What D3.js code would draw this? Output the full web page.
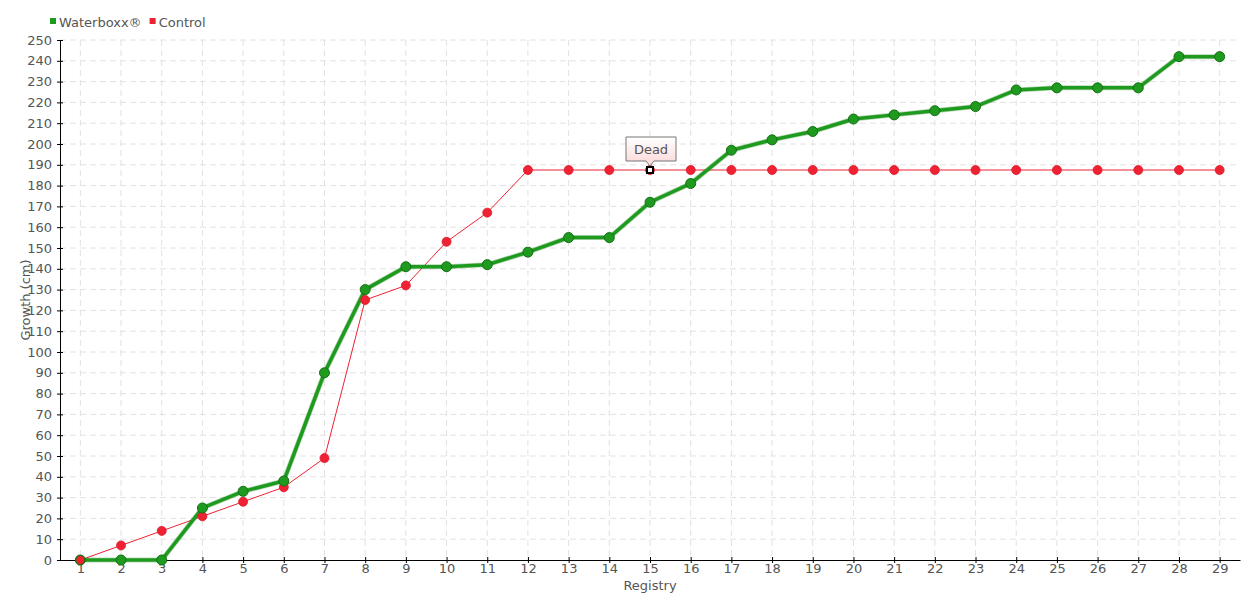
<!DOCTYPE html>
<html><head><meta charset="utf-8">
<script src="https://cdn.jsdelivr.net/npm/d3@7"></script>
<style>
body{margin:0;background:#fff;}
text{font-family:"DejaVu Sans",sans-serif;}
</style></head>
<body><svg id="c" width="1260" height="600"></svg>
<script>
const registry = d3.range(1, 30);
const waterboxx = [0,0,0,25,33,38,90,130,141,141,142,148,155,155,172,181,197,202,206,212,214,216,218,226,227,227,227,242,242];
const control = [0,7,14,21,28,35,49,125,132,153,167,187.5,187.5,187.5,187.5,187.5,187.5,187.5,187.5,187.5,187.5,187.5,187.5,187.5,187.5,187.5,187.5,187.5,187.5];
const yTicks = d3.range(0, 251, 10);
const seriesNames = ["Waterboxx®", "Control"];
const deadIndex = 14;

const svg = d3.select("#c");
const L = 60, R = 1240, T = 40, B = 560;
const x = d3.scaleLinear().domain([0.5, 29.5]).range([L, R]);
const y = d3.scaleLinear().domain([0, 250]).range([B, T]);

const green = "#1e9a1e", red = "#ee2233";
const fs = "13px";

// grid
const g = svg.append("g");
g.selectAll(".hg").data(yTicks.slice(1)).enter().append("line")
  .attr("x1", L).attr("x2", R).attr("y1", d => y(d)).attr("y2", d => y(d))
  .attr("stroke", "#e2e2e2").attr("stroke-dasharray", "6,4");
g.selectAll(".vg").data(registry).enter().append("line")
  .attr("x1", d => x(d)).attr("x2", d => x(d)).attr("y1", T).attr("y2", B)
  .attr("stroke", "#e2e2e2").attr("stroke-dasharray", "6,4");

// axes
const yAxis = d3.axisLeft(y).tickValues(yTicks).tickSizeInner(4).tickSizeOuter(0).tickPadding(4);
const ya = svg.append("g").attr("transform", `translate(${L},0)`).call(yAxis);
ya.select(".domain").attr("stroke", "#000");
ya.selectAll(".tick line").attr("stroke", "#000").attr("x2", 3).attr("x1", -3);
ya.selectAll(".tick text").attr("fill", "#555").style("font-size", fs);

const xAxis = d3.axisBottom(x).tickValues(registry).tickSizeInner(3).tickSizeOuter(0).tickPadding(1);
const xa = svg.append("g").attr("transform", `translate(0,${B})`).call(xAxis);
xa.select(".domain").attr("stroke", "#000");
xa.selectAll(".tick line").attr("stroke", "#000").attr("y1", -3).attr("y2", 3);
xa.selectAll(".tick text").attr("fill", "#555").style("font-size", fs);

svg.append("text").attr("x", (L + R) / 2).attr("y", 590).attr("text-anchor", "middle")
  .attr("fill", "#555").style("font-size", fs).text("Registry");
svg.append("text").attr("transform", `translate(30,${(T + B) / 2}) rotate(-90)`).attr("text-anchor", "middle")
  .attr("fill", "#555").style("font-size", fs).text("Growth (cm)");

// lines
const line = d3.line().x((d, i) => x(registry[i])).y(d => y(d));
svg.append("path").datum(control).attr("d", line).attr("fill", "none").attr("stroke", red).attr("stroke-width", 1);
svg.append("path").datum(waterboxx).attr("d", line).attr("fill", "none").attr("stroke", "#147a14").attr("stroke-width", 5).attr("stroke-opacity", 0.3);
svg.append("path").datum(waterboxx).attr("d", line).attr("fill", "none").attr("stroke", green).attr("stroke-width", 3.5);

svg.selectAll(".cp").data(control).enter().append("circle")
  .attr("cx", (d, i) => x(registry[i])).attr("cy", d => y(d)).attr("r", 4.5)
  .attr("fill", red).attr("stroke", "#e01828").attr("stroke-width", 0.8);
svg.selectAll(".wp").data(waterboxx).enter().append("circle")
  .attr("cx", (d, i) => x(registry[i])).attr("cy", d => y(d)).attr("r", 5)
  .attr("fill", green).attr("stroke", "#157015").attr("stroke-width", 1);
svg.append("circle").attr("cx", x(registry[0])).attr("cy", y(control[0])).attr("r", 4.5).attr("fill", red).attr("stroke", "#157015").attr("stroke-width", 1);
svg.append("rect").attr("x", x(registry[deadIndex]) - 3).attr("y", y(control[deadIndex]) - 3).attr("width", 6).attr("height", 6)
  .attr("fill", "#fff").attr("stroke", "#000").attr("stroke-width", 2);

// tooltip
const defs = svg.append("defs");
const grad = defs.append("linearGradient").attr("id", "tg").attr("x1", 0).attr("y1", 0).attr("x2", 0).attr("y2", 1);
grad.append("stop").attr("offset", 0).attr("stop-color", "#ffffff");
grad.append("stop").attr("offset", 1).attr("stop-color", "#fbd6d6");
const tx = x(registry[deadIndex]), ty = y(control[deadIndex]);
const bx = tx - 24, by = ty - 33, bw = 50, bh = 24;
svg.append("path")
  .attr("d", `M${bx},${by} H${bx + bw} V${by + bh} H${tx + 4} L${tx},${by + bh + 5} L${tx - 4},${by + bh} H${bx} Z`)
  .attr("fill", "url(#tg)").attr("stroke", "#777").attr("stroke-width", 1);
svg.append("text").attr("x", bx + bw / 2).attr("y", by + 17).attr("text-anchor", "middle")
  .attr("fill", "#555").style("font-size", fs).text("Dead");

// legend
const leg = svg.append("g").attr("transform", "translate(50,22)");
const colors = [green, red];
let lx = 0;
seriesNames.forEach((n, i) => {
  leg.append("rect").attr("x", lx).attr("y", -4).attr("width", 6).attr("height", 6).attr("fill", colors[i]);
  const t = leg.append("text").attr("x", lx + 9).attr("y", 5).attr("fill", "#555").style("font-size", fs).text(n);
  lx += 9 + t.node().getComputedTextLength() + 8;
});
</script></body></html>
